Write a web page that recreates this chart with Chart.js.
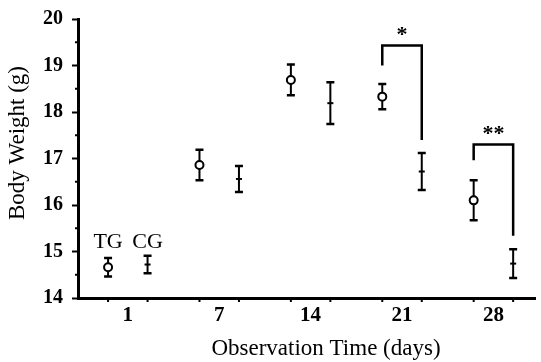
<!DOCTYPE html>
<html>
<head>
<meta charset="utf-8">
<script src="https://cdn.jsdelivr.net/npm/chart.js@4.4.1/dist/chart.umd.min.js"></script>
<style>
    body { margin: 0; background: #fff; }
    #wrap { width: 541px; height: 362px; }
</style>
</head>
<body>
<div id="wrap"><canvas id="myChart" width="541" height="362"></canvas></div>
<script>
// observation days and body weight (g), mean and error
const days = ['1', '7', '14', '21', '28'];
const tgMean = [14.66, 16.86, 18.69, 18.33, 16.10];
const tgErr = [0.20, 0.33, 0.33, 0.27, 0.43];
const cgMean = [14.72, 16.56, 18.19, 16.72, 14.74];
const cgErr = [0.19, 0.28, 0.45, 0.40, 0.31];
const yTicks = [14, 15, 16, 17, 18, 19, 20];

// significance brackets: [top, left end, right end] and day index
const bracketDay = [3, 4];
const bracketTop = [19.43, 17.30];
const bracketLeft = [19.00, 16.96];
const bracketRight = [17.40, 15.34];
const bracketText = ['*', '**'];

const shift = 0.216;
const serif = '"Liberation Serif", "Times New Roman", serif';

function pts(mean, off) {
    return mean.map((v, i) => ({ x: i + off, y: v }));
}

let bracketSets = bracketDay.map((d, i) => ({
    data: [
        { x: d - shift, y: bracketLeft[i] },
        { x: d - shift, y: bracketTop[i] },
        { x: d + shift, y: bracketTop[i] },
        { x: d + shift, y: bracketRight[i] }
    ],
    showLine: true,
    borderColor: '#000',
    borderWidth: 2.5,
    pointRadius: 0,
    errBars: null
}));

const extras = {
    id: 'extras',
    beforeDatasetsDraw(chart) {
        const ctx = chart.ctx;
        const x = chart.scales.x, y = chart.scales.y;
        ctx.save();
        ctx.strokeStyle = '#000';
        ctx.lineCap = 'butt';
        chart.data.datasets.forEach((ds) => {
            if (!ds.errBars) return;
            ds.data.forEach((p, i) => {
                let px = x.getPixelForValue(p.x);
                let top = y.getPixelForValue(p.y + ds.errBars[i]);
                let bot = y.getPixelForValue(p.y - ds.errBars[i]);
                ctx.lineWidth = 2;
                ctx.beginPath();
                ctx.moveTo(px, top); ctx.lineTo(px, bot);
                ctx.stroke();
                ctx.lineWidth = 2.5;
                ctx.beginPath();
                ctx.moveTo(px - 4, top); ctx.lineTo(px + 4, top);
                ctx.moveTo(px - 4, bot); ctx.lineTo(px + 4, bot);
                ctx.stroke();
            });
        });
        ctx.restore();
    },
    afterDraw(chart) {
        const ctx = chart.ctx;
        const x = chart.scales.x, y = chart.scales.y;
        const area = chart.chartArea;
        ctx.save();
        ctx.strokeStyle = '#000';
        ctx.fillStyle = '#000';
        ctx.lineWidth = 2;
        ctx.beginPath();
        // minor ticks on y
        for (let v = 14.5; v < 20; v += 1) {
            let py = y.getPixelForValue(v);
            ctx.moveTo(area.left, py); ctx.lineTo(area.left - 3, py);
        }
        // small ticks under each point
        tgMean.forEach((v, i) => {
            [i - shift, i + shift].forEach((xv) => {
                let px = x.getPixelForValue(xv);
                ctx.moveTo(px, area.bottom); ctx.lineTo(px, area.bottom + 4);
            });
        });
        ctx.stroke();

        ctx.textAlign = 'center';
        ctx.textBaseline = 'middle';
        ctx.font = 'bold 22px ' + serif;
        bracketDay.forEach((d, i) => {
            ctx.fillText(bracketText[i], x.getPixelForValue(d), y.getPixelForValue(bracketTop[i]) - 10);
        });
        ctx.font = '22px ' + serif;
        ctx.fillText('TG', x.getPixelForValue(-shift), y.getPixelForValue(15.19));
        ctx.fillText('CG', x.getPixelForValue(shift), y.getPixelForValue(15.19));

        // axis titles
        ctx.font = '23px ' + serif;
        ctx.fillText('Observation Time (days)', 326, 349);
        ctx.translate(18, 143);
        ctx.rotate(-Math.PI / 2);
        ctx.fillText('Body Weight (g)', 0, 0);
        ctx.restore();
    }
};

new Chart(document.getElementById('myChart'), {
    type: 'scatter',
    data: {
        datasets: [{
            label: 'TG',
            data: pts(tgMean, -shift),
            errBars: tgErr,
            pointStyle: 'circle',
            pointRadius: 4,
            pointBackgroundColor: '#fff',
            pointBorderColor: '#000',
            pointBorderWidth: 2
        }, {
            label: 'CG',
            data: pts(cgMean, shift),
            errBars: cgErr,
            pointStyle: 'line',
            pointRadius: 3,
            pointBorderColor: '#000',
            pointBorderWidth: 2
        }].concat(bracketSets)
    },
    options: {
        responsive: false,
        animation: false,
        layout: { padding: { top: 14, right: 0, left: 0, bottom: 0 } },
        plugins: {
            legend: { display: false },
            tooltip: { enabled: false }
        },
        scales: {
            x: {
                type: 'linear',
                min: -0.545,
                max: 4.455,
                afterBuildTicks: (s) => { s.ticks = days.map((d, i) => ({ value: i })); },
                afterFit: (s) => { s.height = 64; },
                grid: { display: false, tickLength: 0 },
                border: { display: true, color: '#000', width: 3 },
                ticks: {
                    color: '#000',
                    font: { family: serif, size: 21, weight: 'bold' },
                    padding: 5,
                    maxRotation: 0,
                    callback: (v) => days[Math.round(v)]
                }
            },
            y: {
                min: 14,
                max: 20,
                afterBuildTicks: (s) => { s.ticks = yTicks.map((v) => ({ value: v })); },
                afterFit: (s) => { s.width = 78; },
                grid: { drawOnChartArea: false, tickLength: 6, tickWidth: 2, tickColor: '#000' },
                border: { display: true, color: '#000', width: 3 },
                ticks: {
                    color: '#000',
                    font: { family: serif, size: 20, weight: 'bold', lineHeight: 1 },
                    padding: 9
                }
            }
        }
    },
    plugins: [extras]
});
</script>
</body>
</html>
